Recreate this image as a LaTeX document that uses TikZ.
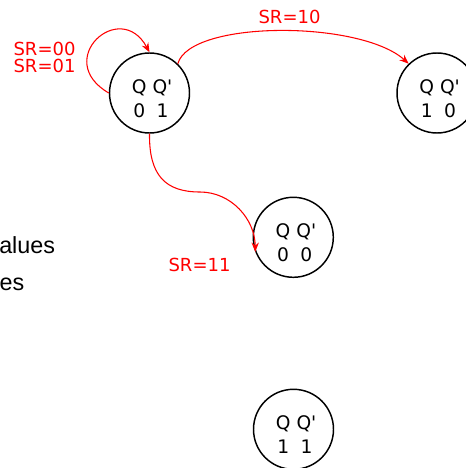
\documentclass[tikz,border=0pt]{standalone}
\usepackage{fontspec}
\setmainfont{DejaVu Sans}
\newfontfamily\arialfont{Liberation Sans}
\usetikzlibrary{arrows.meta}
\newcommand{\qq}{Q\textquotesingle}
\begin{document}
\begin{tikzpicture}[x=0.75pt,y=-0.75pt,
  state/.style={circle,draw=black,line width=1.1pt,minimum size=60pt,inner sep=0pt},
  statetxt/.style={font=\fontsize{14}{18}\selectfont,inner sep=0pt,anchor=base,xshift=2pt},
  trans/.style={draw=red,line width=0.8pt,-{Stealth[length=7pt,width=5.5pt]}},
  lbl/.style={text=red,font=\fontsize{13.5}{13.3}\selectfont,inner sep=0pt,anchor=base west},
  frag/.style={font=\arialfont\fontsize{17.5}{21}\selectfont,inner sep=0pt,anchor=base west},
]
\useasboundingbox (0,0) rectangle (466,468);
\clip (0,0) rectangle (466,468);

\node[state] (A) at (149.5,93) {};
\node[state] (B) at (437,93) {};
\node[state] (C) at (293.3,237.3) {};
\node[state] (D) at (293.5,429.3) {};

\node[statetxt] (tA) at (A) {\begin{tabular}[t]{@{}c@{\hspace{0.318em}}c@{}}Q&\qq\\0&1\end{tabular}};
\node[statetxt] (tB) at (B) {\begin{tabular}[t]{@{}c@{\hspace{0.318em}}c@{}}Q&\qq\\1&0\end{tabular}};
\node[statetxt] (tC) at (C) {\begin{tabular}[t]{@{}c@{\hspace{0.318em}}c@{}}Q&\qq\\0&0\end{tabular}};
\node[statetxt] (tD) at (D) {\begin{tabular}[t]{@{}c@{\hspace{0.318em}}c@{}}Q&\qq\\1&1\end{tabular}};

\coordinate (mAC) at (200,192);
\draw[trans] (A.west) .. controls (52,60) and (120,-2) .. (A.north);
\draw[trans] (A.46) .. controls (190,20) and (360,20) .. (B.134);
\draw[trans] (A.south) .. controls (149,175) and (165,192) .. (mAC)
  .. controls (231,192) and (255,219) .. (C.201);

\node[lbl] (l00) at (13.3,55) {SR=00};
\node[lbl] (l01) at (13.3,72.7) {SR=01};
\node[lbl] (l10) at (258.3,23.5) {SR=10};
\node[lbl] (l11) at (168.3,271.5) {SR=11};

\node[frag] (v1) at (-1,253.3) {alues};
\node[frag] (v2) at (-0.6,290) {es};
\end{tikzpicture}
\end{document}
